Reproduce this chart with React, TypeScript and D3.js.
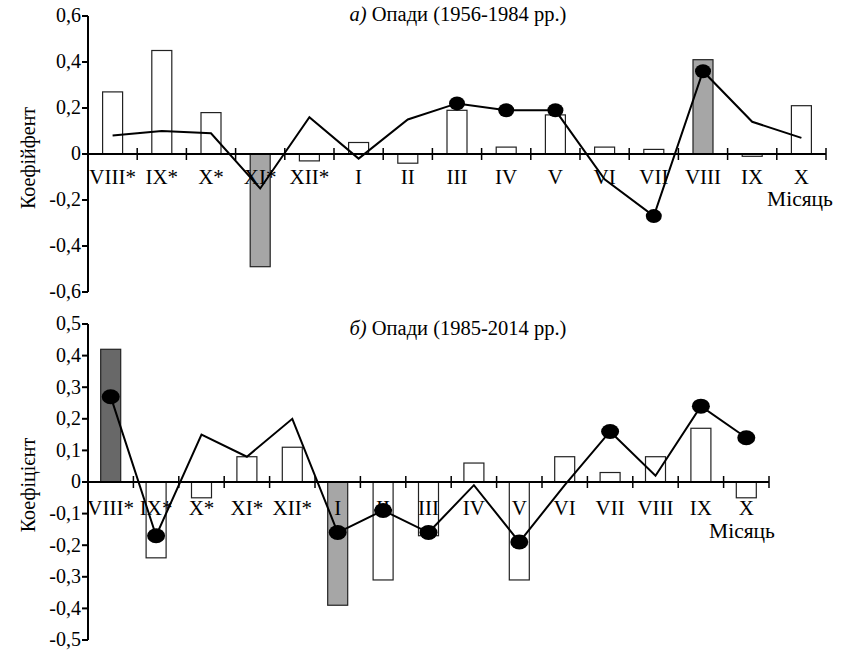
import * as d3 from "d3";

const months = ["VIII*", "IX*", "X*", "XI*", "XII*", "I", "II", "III", "IV", "V", "VI", "VII", "VIII", "IX", "X"];

// panel a) 1956-1984
const barsA = [0.27, 0.45, 0.18, -0.49, -0.03, 0.05, -0.04, 0.19, 0.03, 0.17, 0.03, 0.02, 0.41, -0.01, 0.21];
const lineA = [0.08, 0.1, 0.09, -0.15, 0.16, -0.02, 0.15, 0.22, 0.19, 0.19, -0.11, -0.27, 0.36, 0.14, 0.07];
const markA = ["III", "IV", "V", "VII", "VIII"];
const fillA: Record<string, string> = { "XI*": "#a6a6a6", VIII: "#a6a6a6" };

// panel b) 1985-2014
const barsB = [0.42, -0.24, -0.05, 0.08, 0.11, -0.39, -0.31, -0.17, 0.06, -0.31, 0.08, 0.03, 0.08, 0.17, -0.05];
const lineB = [0.27, -0.17, 0.15, 0.08, 0.2, -0.16, -0.09, -0.16, -0.01, -0.19, -0.01, 0.16, 0.02, 0.24, 0.14];
const markB = ["VIII*", "IX*", "I", "II", "III", "V", "VII", "IX", "X"];
const fillB: Record<string, string> = { "VIII*": "#686868", I: "#a6a6a6" };

const ticksA = [0.6, 0.4, 0.2, 0, -0.2, -0.4, -0.6];
const ticksB = [0.5, 0.4, 0.3, 0.2, 0.1, 0, -0.1, -0.2, -0.3, -0.4, -0.5];

const FONT = "Liberation Serif, Times New Roman, DejaVu Serif, serif";
const fmt = (v: number) => (Math.abs(v) < 1e-9 ? "0" : String(+v.toFixed(1)).replace(".", ","));

type PanelProps = {
  bars: number[];
  line: number[];
  marks: string[];
  fills: Record<string, string>;
  ticks: number[];
  xRange: [number, number];
  yRange: [number, number];
  prefix: string;
  title: string;
  titleY: number;
  yLabel: string;
  yLabelY: number;
  monthY: number;
  axisLabelX: number;
  axisLabelY: number;
  rx: number;
  ry: number;
};

function Panel(p: PanelProps) {
  const x = d3.scaleBand<string>().domain(months).range(p.xRange).padding(0);
  const ext = d3.extent(p.ticks) as [number, number];
  const y = d3.scaleLinear().domain(ext).range(p.yRange);
  const bw = 20;
  const cx = (m: string) => (x(m) ?? 0) + x.bandwidth() / 2;
  const y0 = y(0);
  const lineGen = d3
    .line<number>()
    .x((_, i) => cx(months[i]))
    .y((d) => y(d));
  const axisX = p.xRange[0];

  return (
    <g style={{ fontFamily: FONT }} fill="#000">
      <text x={458} y={p.titleY} textAnchor="middle" fontSize={20.5}>
        <tspan fontStyle="italic">{p.prefix}</tspan> Опади {p.title}
      </text>
      <text
        transform={`translate(35,${p.yLabelY}) rotate(-90)`}
        textAnchor="middle"
        fontSize={20}
      >
        {p.yLabel}
      </text>

      {/* bars */}
      {p.bars.map((v, i) => {
        const m = months[i];
        const top = Math.min(y(v), y0);
        const h = Math.max(Math.abs(y(v) - y0), 1.5);
        return (
          <rect
            key={m}
            x={cx(m) - bw / 2}
            y={top}
            width={bw}
            height={h}
            fill={p.fills[m] ?? "#fff"}
            stroke="#222"
            strokeWidth={1.2}
          />
        );
      })}

      {/* y axis */}
      <line x1={axisX} x2={axisX} y1={p.yRange[1]} y2={p.yRange[0]} stroke="#000" strokeWidth={2} />
      {p.ticks.map((t) => (
        <g key={t}>
          <line x1={axisX - 6} x2={axisX} y1={y(t)} y2={y(t)} stroke="#000" strokeWidth={2} />
          <text x={axisX - 7} y={y(t)} dy="0.32em" textAnchor="end" fontSize={20}>
            {fmt(t)}
          </text>
        </g>
      ))}

      {/* x axis */}
      <line x1={axisX} x2={p.xRange[1]} y1={y0} y2={y0} stroke="#000" strokeWidth={2} />
      {months.map((m) => (
        <g key={m}>
          <line
            x1={(x(m) ?? 0) + x.bandwidth()}
            x2={(x(m) ?? 0) + x.bandwidth()}
            y1={y0 - 6}
            y2={y0 + 6}
            stroke="#000"
            strokeWidth={1.5}
          />
          <text x={cx(m)} y={p.monthY} textAnchor="middle" fontSize={21}>
            {m}
          </text>
        </g>
      ))}
      <text x={p.axisLabelX} y={p.axisLabelY} textAnchor="middle" fontSize={21.5}>
        Місяць
      </text>

      {/* line */}
      <path d={lineGen(p.line) ?? ""} fill="none" stroke="#000" strokeWidth={2} />
      {p.line.map((v, i) =>
        p.marks.includes(months[i]) ? (
          <ellipse key={months[i]} cx={cx(months[i])} cy={y(v)} rx={p.rx} ry={p.ry} fill="#000" />
        ) : null
      )}
    </g>
  );
}

export default function App() {
  return (
    <svg
      width={850}
      height={650}
      style={{ position: "absolute", left: 0, top: 0, background: "#fff" }}
    >
      <rect width={850} height={650} fill="#fff" />
      <Panel
        bars={barsA}
        line={lineA}
        marks={markA}
        fills={fillA}
        ticks={ticksA}
        xRange={[88, 826]}
        yRange={[292, 16]}
        prefix="а)"
        title="(1956-1984 рр.)"
        titleY={21}
        yLabel="Коефійфент"
        yLabelY={158}
        monthY={184}
        axisLabelX={800}
        axisLabelY={206}
        rx={8}
        ry={7}
      />
      <Panel
        bars={barsB}
        line={lineB}
        marks={markB}
        fills={fillB}
        ticks={ticksB}
        xRange={[88, 769]}
        yRange={[640, 324]}
        prefix="б)"
        title="(1985-2014 рр.)"
        titleY={335}
        yLabel="Коефіцієнт"
        yLabelY={485}
        monthY={515}
        axisLabelX={742}
        axisLabelY={538}
        rx={9}
        ry={7.5}
      />
    </svg>
  );
}
